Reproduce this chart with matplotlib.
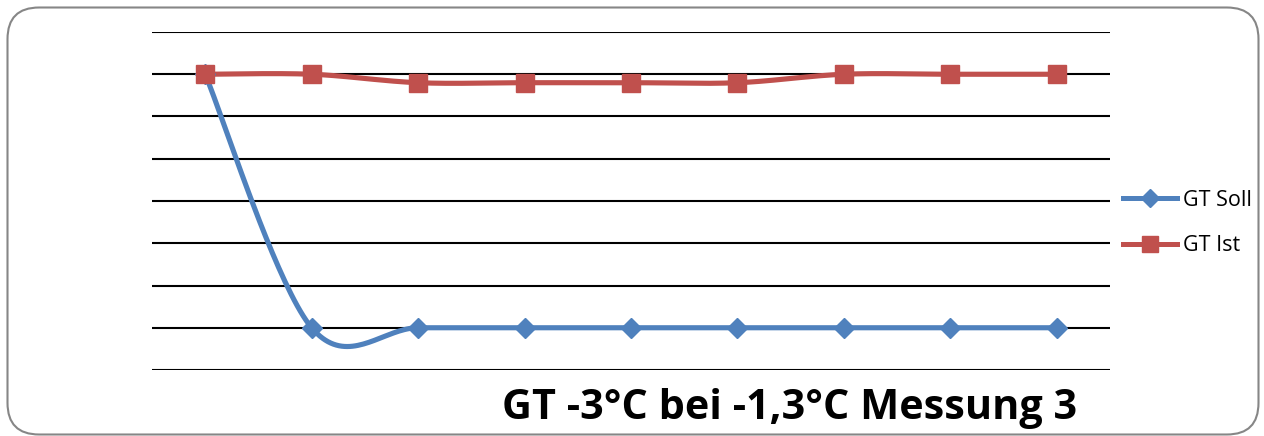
import numpy as np
import matplotlib
matplotlib.use("Agg")
import matplotlib.pyplot as plt
from matplotlib.patches import FancyBboxPatch
from matplotlib.lines import Line2D

# Series data
categories = list(range(1, 10))
gt_soll = [0.0, -3.0, -3.0, -3.0, -3.0, -3.0, -3.0, -3.0, -3.0]
gt_ist = [0.0, 0.0, -0.1, -0.1, -0.1, -0.1, 0.0, 0.0, 0.0]
series_names = ["GT Soll", "GT Ist"]
title = "GT -3°C bei -1,3°C Messung 3"

BLUE = "#4F81BD"
RED = "#C0504D"


def smooth(xs, ys, n=40):
    """Catmull-Rom style smoothing through the points (cubic Bezier segments)."""
    pts = np.column_stack([xs, ys]).astype(float)
    out = []
    m = len(pts)
    for i in range(m - 1):
        p0 = pts[max(i - 1, 0)]
        p1 = pts[i]
        p2 = pts[i + 1]
        p3 = pts[min(i + 2, m - 1)]
        c1 = p1 + (p2 - p0) / 6.0
        c2 = p2 - (p3 - p1) / 6.0
        t = np.linspace(0, 1, n)[:, None]
        seg = ((1 - t) ** 3) * p1 + 3 * ((1 - t) ** 2) * t * c1 + 3 * (1 - t) * t ** 2 * c2 + t ** 3 * p2
        out.append(seg if i == 0 else seg[1:])
    arr = np.vstack(out)
    return arr[:, 0], arr[:, 1]


W, H = 1264, 436
fig = plt.figure(figsize=(W / 100, H / 100), dpi=100)

# Rounded chart-area frame
frame = FancyBboxPatch((7.5 / W, 1.5 / H), (1251 / W), (427 / H),
                       boxstyle="round,pad=0,rounding_size=0.025",
                       transform=fig.transFigure, facecolor="white",
                       edgecolor="#868686", linewidth=1.5,
                       mutation_aspect=W / H, zorder=-10)
fig.patches.append(frame)

ax = fig.add_axes([152 / W, (H - 370) / H, (1110 - 152) / W, (370 - 32) / H])
ax.set_zorder(2)
ax.set_facecolor("none")

x = np.arange(len(categories))
for vals, color, marker, ms in [(gt_soll, BLUE, "D", 10), (gt_ist, RED, "s", 13.5)]:
    sx, sy = smooth(x, vals)
    ax.plot(sx, sy, color=color, linewidth=3.7, solid_capstyle="round", zorder=3)
    ax.plot(x, vals, linestyle="none", marker=marker, markersize=ms,
            color=color, markeredgecolor=color, zorder=4)

ax.set_xlim(-0.5, len(categories) - 0.5)
ax.set_ylim(-3.5, 0.5)
ax.set_yticks(np.arange(-3.5, 0.51, 0.5))
ax.yaxis.grid(True, color="black", linewidth=1.5)
ax.set_axisbelow(True)
ax.tick_params(left=False, bottom=False, labelleft=False, labelbottom=False)
for s in ax.spines.values():
    s.set_visible(False)

handles = [
    Line2D([], [], color=BLUE, linewidth=3.6, marker="D", markersize=9),
    Line2D([], [], color=RED, linewidth=3.6, marker="s", markersize=11),
]
fig.legend(handles, series_names, loc="center left",
           bbox_to_anchor=(1104 / W, 1 - 223 / H), frameon=False,
           handlelength=2.5, handletextpad=0.25, labelspacing=1.15,
           prop={"family": "Open Sans", "size": 15.5})

fig.text(790 / W, 1 - 408 / H, title, ha="center", va="center",
         fontsize=29.8, fontweight="bold", family="Open Sans")

fig.savefig("out.png", dpi=100)
